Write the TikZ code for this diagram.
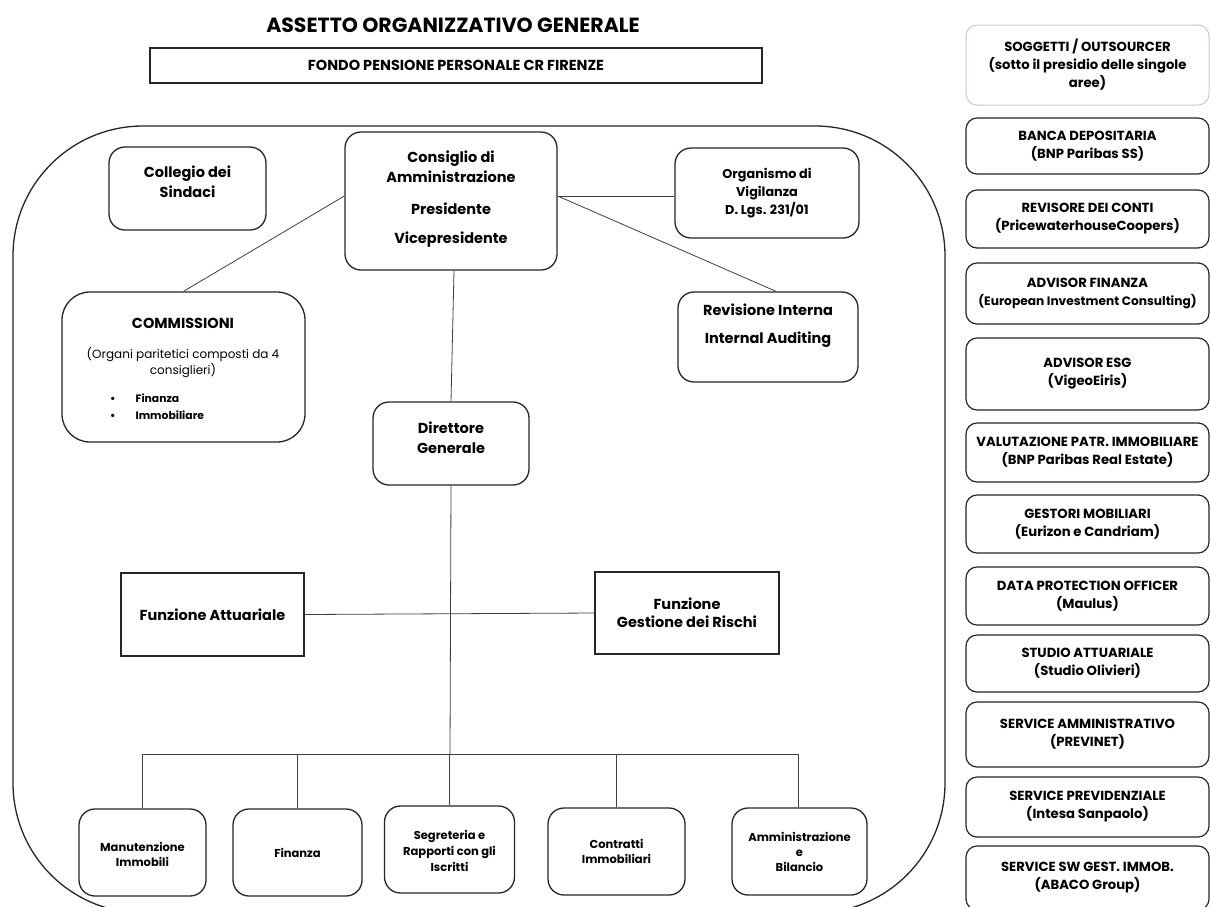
\documentclass[tikz,border=0pt]{standalone}
\usepackage{fontspec}
\setmainfont{Poppins}
\newcommand\fsz[2]{\fontsize{#1}{#2}\selectfont}
\tikzset{
  rbox/.style={draw=black!85, line width=1.3pt, rounded corners=16pt, fill=white, inner sep=0pt},
  sbox/.style={draw=black!85, line width=1.3pt, fill=white, inner sep=0pt},
  obox/.style={draw=black!85, line width=1.2pt, rounded corners=11pt, fill=white, inner sep=0pt,
               minimum width=243pt, align=center, font=\bfseries\fsz{13.2}{18}},
  conn/.style={draw=black!75, line width=0.8pt},
  lbl/.style={align=center, inner sep=0pt, font=\bfseries\fsz{14.5}{20}},
  sml/.style={align=center, inner sep=0pt, font=\bfseries\fsz{11.5}{15}},
}
\begin{document}
\begin{tikzpicture}[x=1pt,y=-1pt]
\clip (0,0) rectangle (1210,906);
\fill[white] (0,0) rectangle (1210,906);

% title
\node[font=\bfseries\fsz{20.5}{24}, inner sep=0pt] (title) at (453,25) {ASSETTO ORGANIZZATIVO GENERALE};
\node[sbox, minimum width=612pt, minimum height=35pt, font=\bfseries\fsz{14.5}{17}] (fondo) at (456,65.5) {FONDO PENSIONE PERSONALE CR FIRENZE};

% outer frame
\draw[line width=1.3pt, draw=black!85, rounded corners=130pt] (13,126) rectangle (945,913);

% main boxes
\node[rbox, minimum width=157pt, minimum height=83pt] (col) at (187.5,188.5) {};
\node[lbl] at ([yshift=7pt]col.center) {Collegio dei\\Sindaci};

\node[rbox, minimum width=212pt, minimum height=138pt] (cons) at (451,201) {};
\node[lbl] at ([yshift=2pt]cons.center) {Consiglio di\\Amministrazione\\[12pt]Presidente\\[9pt]Vicepresidente};

\node[rbox, minimum width=184pt, minimum height=90pt] (org) at (767,193) {};
\node[lbl, font=\bfseries\fsz{12.8}{18}] at (org.center) {Organismo di\\Vigilanza\\D. Lgs. 231/01};

\node[rbox, rounded corners=28pt, minimum width=243pt, minimum height=150pt] (comm) at (183.5,367) {};
\node[lbl, font=\bfseries\fsz{14.5}{18}] (commt) at (183,323) {COMMISSIONI};
\node[align=center, inner sep=0pt, font=\fsz{12}{16}] (commd) at (183,362.5) {(Organi paritetici composti da 4\\consiglieri)};
\node[inner sep=0pt, font=\bfseries\fsz{10.8}{16}, anchor=west] (comm1) at (110,398) {\textbullet\hspace{20pt}Finanza};
\node[inner sep=0pt, font=\bfseries\fsz{10.8}{16}, anchor=west] (comm2) at (110,415) {\textbullet\hspace{20pt}Immobiliare};

\node[rbox, minimum width=180pt, minimum height=90pt] (rev) at (768,337) {};
\node[lbl] at ([yshift=11pt]rev.center) {Revisione Interna\\[8pt]Internal Auditing};

\node[rbox, minimum width=156pt, minimum height=83pt] (dir) at (451,443.5) {};
\node[lbl] at ([yshift=6pt]dir.center) {Direttore\\Generale};

\node[sbox, minimum width=183pt, minimum height=83pt] (att) at (212.5,614.5) {};
\node[lbl] at (att.center) {Funzione Attuariale};

\node[sbox, minimum width=184pt, minimum height=82pt] (ges) at (687,613) {};
\node[lbl, font=\bfseries\fsz{14.5}{18}] at (ges.center) {Funzione\\Gestione dei Rischi};

% bottom boxes
\node[rbox, minimum width=127pt, minimum height=87pt] (man) at (142.5,852.5) {};
\node[sml] at ([yshift=-2pt]man.center) {Manutenzione\\Immobili};
\node[rbox, minimum width=129pt, minimum height=87pt] (fin) at (297.5,852.5) {};
\node[sml] at (fin.center) {Finanza};
\node[rbox, minimum width=130pt, minimum height=87pt] (seg) at (449.5,849.5) {};
\node[sml, font=\bfseries\fsz{11.5}{16}] at ([yshift=-1.5pt]seg.center) {Segreteria e\\Rapporti con gli\\Iscritti};
\node[rbox, minimum width=137pt, minimum height=87pt] (con) at (616.5,851.5) {};
\node[sml] at (con.center) {Contratti\\Immobiliari};
\node[rbox, minimum width=135pt, minimum height=87pt] (amm) at (799.5,851.5) {};
\node[sml] at (amm.center) {Amministrazione\\e\\Bilancio};

% connectors
\coordinate (cl) at ([yshift=5pt]cons.west);
\coordinate (cr) at ([yshift=5pt]cons.east);
\draw[conn] (cl) -- (comm.north);
\draw[conn] (cr) -- (org.west |- cr);
\draw[conn] (cr) -- ([xshift=8pt]rev.north);
\draw[conn] ([xshift=3pt]cons.south) -- (dir.north);
\coordinate (busc) at (450,754);
\draw[conn] (dir.south) -- (busc);
\draw[conn] (att.east) -- (ges.west);
\coordinate (busl) at (man.north |- busc);
\coordinate (busr) at ([xshift=-1.5pt]amm.north |- busc);
\draw[conn] (busl) -- (busr);
\draw[conn] (busl) -- (man.north);
\draw[conn] (fin.north |- busc) -- (fin.north);
\draw[conn] (seg.north |- busc) -- (seg.north);
\draw[conn] (con.north |- busc) -- (con.north);
\draw[conn] (busr) -- ([xshift=-1.5pt]amm.north);

% right column
\node[obox, draw=blue!25!black!22, line width=1pt, minimum height=80pt] (o0) at (1087.5,65) {SOGGETTI / OUTSOURCER\\(sotto il presidio delle singole\\aree)};
\node[obox, minimum height=56pt] (o1) at (1087.5,146) {BANCA DEPOSITARIA\\(BNP Paribas SS)};
\node[obox, minimum height=58pt] (o2) at (1087.5,219) {REVISORE DEI CONTI\\(PricewaterhouseCoopers)};
\node[obox, minimum height=61pt] (o3) at (1087.5,293.5) {ADVISOR FINANZA\\{\fsz{12.2}{18}(European Investment Consulting)}};
\node[obox, minimum height=72pt] (o4) at (1087.5,374) {ADVISOR ESG\\(VigeoEiris)};
\node[obox, minimum height=59pt] (o5) at (1087.5,452.5) {VALUTAZIONE PATR. IMMOBILIARE\\(BNP Paribas Real Estate)};
\node[obox, minimum height=58pt] (o6) at (1087.5,524) {GESTORI MOBILIARI\\(Eurizon e Candriam)};
\node[obox, minimum height=58pt] (o7) at (1087.5,596) {DATA PROTECTION OFFICER\\(Maulus)};
\node[obox, minimum height=57pt] (o8) at (1087.5,663.5) {STUDIO ATTUARIALE\\(Studio Olivieri)};
\node[obox, minimum height=65pt] (o9) at (1087.5,734.5) {SERVICE AMMINISTRATIVO\\(PREVINET)};
\node[obox, minimum height=60pt] (o10) at (1087.5,807) {SERVICE PREVIDENZIALE\\(Intesa Sanpaolo)};
\node[obox, minimum height=64pt] (o11) at (1087.5,878) {SERVICE SW GEST. IMMOB.\\(ABACO Group)};
\end{tikzpicture}
\end{document}
